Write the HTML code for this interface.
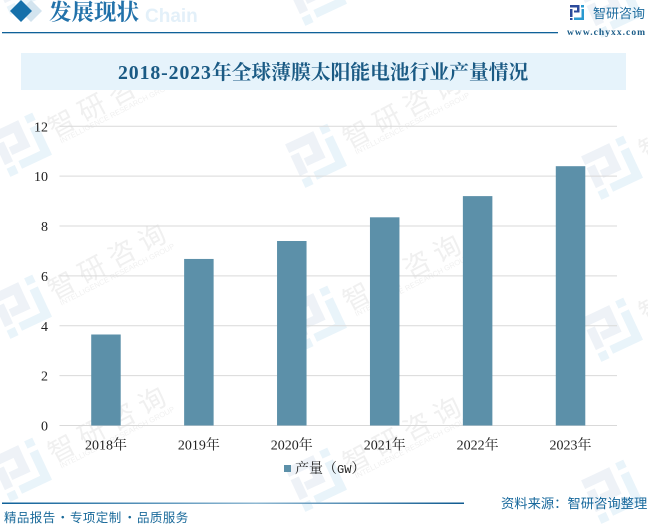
<!DOCTYPE html>
<html lang="zh">
<head>
<meta charset="utf-8">
<title>2018-2023年全球薄膜太阳能电池行业产量情况</title>
<style>
html,body{margin:0;padding:0;background:#fff;}
#stage{position:relative;width:648px;height:524px;overflow:hidden;background:#fff;}
svg{position:absolute;left:0;top:0;}
</style>
</head>
<body>
<div id="stage">
<svg id="chart" width="648" height="524" viewBox="0 0 648 524" xmlns="http://www.w3.org/2000/svg">
  <defs>
    <g id="wm-logo">
      <g transform="rotate(-25)">
        <g fill="#eef2f7">
          <rect x="-24" y="-24" width="31" height="9.500"/>
          <rect x="-2.500" y="-24" width="9.500" height="29"/>
          <rect x="-13" y="-3.500" width="20" height="8.500"/>
          <rect x="-24" y="-11" width="9" height="22"/>
        </g>
        <g fill="#e9f4fa">
          <rect x="14" y="-25" width="9" height="8"/>
          <rect x="14" y="-12" width="9" height="33"/>
          <rect x="-10" y="13" width="33" height="8.500"/>
          <rect x="-24" y="15" width="9" height="9"/>
        </g>
      </g>
    </g>
    <g id="wm-text">
      <text x="88" y="-36" transform="rotate(-28 85 -46)" text-anchor="middle" font-family="'Liberation Sans','Noto Sans CJK SC',sans-serif" font-size="27" letter-spacing="7" fill="#f0f0f0">智研咨询</text>
      <text x="95" y="-30" transform="rotate(-27 95 -33)" text-anchor="middle" font-family="'Liberation Sans',sans-serif" font-size="7.500" fill="#f0f0f0">INTELLIGENCE RESEARCH GROUP</text>
    </g>
    <linearGradient id="footer-grad" x1="0" x2="1" y1="0" y2="0">
      <stop offset="0" stop-color="#0f6199"/>
      <stop offset=".55" stop-color="#8fb8d2"/>
      <stop offset="1" stop-color="#0f5a90"/>
    </linearGradient>
  </defs>

  <g id="watermarks">
    <use href="#wm-logo" x="22" y="-17"/><use href="#wm-text" x="22" y="-17"/>
    <use href="#wm-logo" x="22" y="145"/><use href="#wm-text" x="22" y="145"/>
    <use href="#wm-logo" x="22" y="307"/><use href="#wm-text" x="22" y="307"/>
    <use href="#wm-logo" x="22" y="470"/><use href="#wm-text" x="22" y="470"/>
    <use href="#wm-logo" x="317" y="-6"/><use href="#wm-text" x="317" y="-6"/>
    <use href="#wm-logo" x="317" y="156"/><use href="#wm-text" x="317" y="156"/>
    <use href="#wm-logo" x="317" y="318"/><use href="#wm-text" x="317" y="318"/>
    <use href="#wm-logo" x="317" y="480"/><use href="#wm-text" x="317" y="480"/>
    <use href="#wm-logo" x="613" y="6"/>
    <use href="#wm-logo" x="613" y="168"/><use href="#wm-text" x="613" y="168"/>
    <use href="#wm-logo" x="613" y="330"/><use href="#wm-text" x="613" y="330"/>
    <use href="#wm-logo" x="613" y="492"/>
  </g>

  <g>
    <text x="145" y="22" font-family="'Liberation Sans',sans-serif" font-weight="bold" font-size="19" fill="#e3f0f9">Chain</text>
    <polygon points="31,0 42,11 31,22 20,11" fill="#d3e4ef"/>
    <polygon points="21,0 32,11 21,22 10,11" fill="#1670aa"/>
    <text x="49" y="20" font-family="'Liberation Serif','Noto Serif CJK SC',serif" font-weight="bold" font-size="22.5" fill="#2272aa">发展现状</text>
    <rect x="2" y="32" width="556" height="1.300" fill="#0f6199"/>
  </g>

  <g>
    <g>
      <g fill="#2b4a9b">
        <rect x="570" y="5" width="9.500" height="2.500"/>
        <rect x="577" y="5" width="2.500" height="7.500"/>
        <rect x="574" y="10.500" width="5.500" height="2"/>
        <rect x="570" y="9" width="2.500" height="8"/>
        <rect x="570" y="18" width="2.500" height="2"/>
      </g>
      <g fill="#2a9ad0">
        <rect x="581" y="5" width="3" height="2.500"/>
        <rect x="581.500" y="9" width="2.500" height="11"/>
        <rect x="574" y="17.500" width="10" height="2.500"/>
      </g>
    </g>
    <text x="593" y="18" font-family="'Liberation Sans','Noto Sans CJK SC',sans-serif" font-size="13" fill="#1f6d9f">智研咨询</text>
    <text x="567" y="35" font-family="'Liberation Serif',serif" font-size="9.500" font-weight="bold" letter-spacing="1.050" fill="#1a5c88">www.chyxx.com</text>
  </g>

  <rect x="21" y="53" width="605" height="37" fill="#e6f3fb"/>
  <text x="118" y="79" font-family="'Liberation Serif','Noto Serif CJK SC',serif" font-weight="bold" font-size="19.800" fill="#1a5a84"><tspan letter-spacing=".9">2018-2023</tspan>年全球薄膜太阳能电池行业产量情况</text>

  <g id="grid"></g>
  <g id="bars"></g>
  <g id="yticks"></g>
  <g id="xticks"></g>

  <g>
    <rect x="284" y="465" width="7" height="7" fill="#5c90a9"/>
    <text x="295" y="473" font-family="'Liberation Serif','Noto Serif CJK SC',serif" font-size="14" fill="#222">产量（<tspan font-family="'Liberation Mono',monospace" font-size="12">GW</tspan>）</text>
  </g>

  <rect x="2" y="502.500" width="462" height="1.500" fill="url(#footer-grad)"/>
  <text y="522" font-family="'Liberation Sans','Noto Sans CJK SC',sans-serif" font-size="12.500" letter-spacing=".4" fill="#1a6a9a"><tspan x="4">精品报告</tspan><tspan x="56.500">・</tspan><tspan x="70">专项定制</tspan><tspan x="123.500">・</tspan><tspan x="137">品质服务</tspan></text>
  <text x="501" y="508" font-family="'Liberation Sans','Noto Sans CJK SC',sans-serif" font-size="13.300" fill="#17689c">资料来源：智研咨询整理</text>
</svg>
</div>
<script>
const categories = ["2018年", "2019年", "2020年", "2021年", "2022年", "2023年"];
const productionValues = [3.65, 6.68, 7.4, 8.35, 9.2, 10.4];
const yTickValues = [0, 2, 4, 6, 8, 10, 12];

const SVG_NS = "http://www.w3.org/2000/svg";
const plotLeft = 59.5, plotRight = 617, plotBottom = 425.5, plotTop = 126.3, yMax = 12, barWidth = 29.5;
const tickFont = "'Liberation Serif','Noto Serif CJK SC',serif";

function yScale(v) {
  return plotBottom - (v / yMax) * (plotBottom - plotTop);
}
function xCenter(i) {
  return plotLeft + (plotRight - plotLeft) * (i + 0.5) / categories.length;
}

const gridGroup = document.getElementById("grid");
const yGroup = document.getElementById("yticks");
const xGroup = document.getElementById("xticks");
const barGroup = document.getElementById("bars");

yTickValues.forEach(function (v) {
  const line = document.createElementNS(SVG_NS, "line");
  line.setAttribute("x1", plotLeft);
  line.setAttribute("x2", plotRight);
  line.setAttribute("y1", yScale(v));
  line.setAttribute("y2", yScale(v));
  line.setAttribute("stroke", "#d9d9d9");
  line.setAttribute("stroke-width", "1");
  
  
  gridGroup.appendChild(line);

  const label = document.createElementNS(SVG_NS, "text");
  label.setAttribute("x", 48);
  label.setAttribute("y", yScale(v) + 5);
  label.setAttribute("text-anchor", "end");
  label.setAttribute("font-family", tickFont);
  label.setAttribute("font-size", "14");
  label.setAttribute("fill", "#222");
  label.textContent = String(v);
  
  
  yGroup.appendChild(label);
});

categories.forEach(function (cat, i) {
  const bar = document.createElementNS(SVG_NS, "rect");
  bar.setAttribute("x", xCenter(i) - barWidth / 2);
  bar.setAttribute("y", yScale(productionValues[i]));
  bar.setAttribute("width", barWidth);
  bar.setAttribute("height", plotBottom - yScale(productionValues[i]));
  bar.setAttribute("fill", "#5c90a9");
  
  
  barGroup.appendChild(bar);

  const label = document.createElementNS(SVG_NS, "text");
  label.setAttribute("x", xCenter(i));
  label.setAttribute("y", 449.5);
  label.setAttribute("text-anchor", "middle");
  label.setAttribute("font-family", tickFont);
  label.setAttribute("font-size", "14");
  label.setAttribute("fill", "#222");
  label.textContent = cat;
  
  
  xGroup.appendChild(label);
});
</script>
</body>
</html>
